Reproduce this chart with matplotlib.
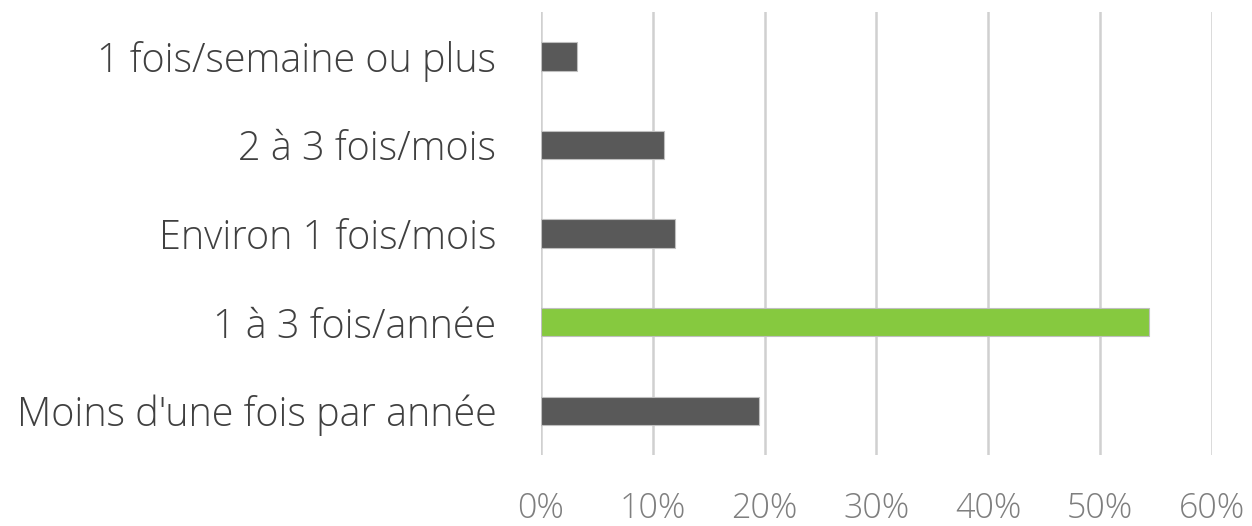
import matplotlib.pyplot as plt
from matplotlib.ticker import FuncFormatter

categories = ["1 fois/semaine ou plus", "2 à 3 fois/mois", "Environ 1 fois/mois",
              "1 à 3 fois/année", "Moins d'une fois par année"]
values = [3.2, 11.0, 12.0, 54.4, 19.5]
colors = ["#595959", "#595959", "#595959", "#86c93f", "#595959"]
xticks = [0, 10, 20, 30, 40, 50, 60]

plt.rcParams['font.family'] = ['Open Sans', 'DejaVu Sans']

fig = plt.figure(figsize=(12.52, 5.26), dpi=100)
ax = fig.add_axes([0.432, 0.135, 0.536, 0.842])

ypos = list(range(len(categories)))
ax.barh(ypos, values, height=0.32, color=colors, edgecolor="#bfbfbf", linewidth=0.8, zorder=3)
ax.set_yticks(ypos)
ax.set_yticklabels(categories, fontsize=28.5, color="#404040", fontweight="light")
ax.set_ylim(len(categories) - 0.5, -0.5)
ax.set_xlim(0, 60)
ax.set_xticks(xticks)
ax.xaxis.set_major_formatter(FuncFormatter(lambda v, p: f"{int(v)}%"))
for lab in ax.get_xticklabels():
    lab.set_fontsize(24.5)
    lab.set_color("#7f7f7f")
    lab.set_fontweight("light")
ax.tick_params(axis="x", length=0, pad=26)
ax.tick_params(axis="y", length=0, pad=32)
ax.grid(axis="x", color="#d0d0d0", linewidth=1.8, zorder=0)
for s in ax.spines.values():
    s.set_visible(False)

plt.savefig("out.png", dpi=100)
plt.close()
